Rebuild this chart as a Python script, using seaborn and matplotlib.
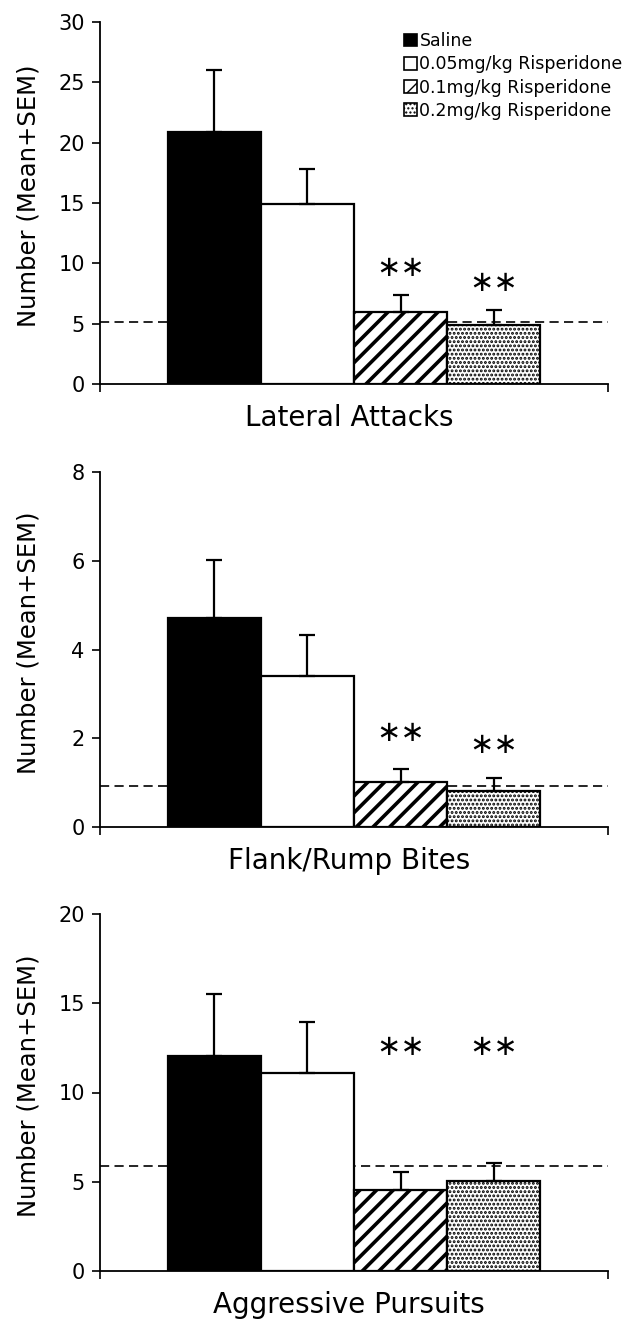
import numpy as np
import pandas as pd
import matplotlib
matplotlib.use("Agg")
import matplotlib.pyplot as plt
import seaborn as sns
from matplotlib.patches import Patch

# ---------------- data ----------------
groups = ["Saline", "0.05mg/kg Risperidone", "0.1mg/kg Risperidone", "0.2mg/kg Risperidone"]
measures = ["Lateral Attacks", "Flank/Rump Bites", "Aggressive Pursuits"]

lateral_mean = [20.9, 14.95, 6.0, 4.9]
lateral_sem = [5.1, 2.85, 1.37, 1.23]
flank_mean = [4.72, 3.41, 1.01, 0.82]
flank_sem = [1.29, 0.91, 0.29, 0.28]
pursuit_mean = [12.06, 11.08, 4.55, 5.05]
pursuit_sem = [3.44, 2.89, 0.97, 0.99]

baseline = [5.15, 0.93, 5.9]          # dashed reference line per panel
star_level = [[9.6, 8.4], [2.12, 1.85], [12.55, 12.55]]  # "**" heights (data units)
y_max = [30, 8, 20]
y_step = [5, 2, 5]

face_colors = ["black", "white", "white", "white"]
hatches = ["", "", "//", "...."]
hatch_lw = [1.0, 1.0, 2.6, 1.4]

# ---------------- style ----------------
sns.set_style("ticks")
plt.rcParams["font.family"] = ["DejaVu Sans"]
plt.rcParams["hatch.color"] = "black"
plt.rcParams["text.color"] = "black"
plt.rcParams["axes.labelcolor"] = "black"

fig = plt.figure(figsize=(6.24, 13.21), dpi=100)
W, H = 624.0, 1321.0
ax_px = [(22, 384), (472, 827), (914, 1271)]  # (top, bottom) in pixels
left_px, right_px = 100, 608

means_all = [lateral_mean, flank_mean, pursuit_mean]
sems_all = [lateral_sem, flank_sem, pursuit_sem]
XL = 0.545

for i, measure in enumerate(measures):
    top, bot = ax_px[i]
    ax = fig.add_axes([left_px / W, 1 - bot / H, (right_px - left_px) / W, (bot - top) / H])
    df = pd.DataFrame({"measure": measure, "group": groups, "mean": means_all[i]})
    sns.barplot(data=df, x="measure", y="mean", hue="group", hue_order=groups,
                palette=face_colors, saturation=1, edgecolor="black", linewidth=1.6,
                errorbar=None, width=0.8, legend=False, ax=ax, zorder=2)

    xs, tops = [], []
    for k, cont in enumerate(ax.containers):
        for p in cont.patches:
            p.set_hatch(hatches[k])
            if hasattr(p, "set_hatch_linewidth"):
                p.set_hatch_linewidth(hatch_lw[k])
            xs.append(p.get_x() + p.get_width() / 2)
            tops.append(p.get_height())
    xs = np.array(xs)
    sem = np.array(sems_all[i])
    ax.errorbar(xs, tops, yerr=[np.zeros_like(sem), sem], fmt="none", ecolor="black",
                elinewidth=1.6, capsize=6, capthick=1.6, zorder=3)

    ax.axhline(baseline[i], color="black", lw=1.2, ls=(0, (5.5, 3.2)), zorder=1)

    for j, k in enumerate([2, 3]):
        ax.text(xs[k], star_level[i][j], "∗∗", ha="center", va="center",
                fontsize=21, color="black")

    ax.set_xlim(-XL, XL)
    ax.set_ylim(0, y_max[i])
    ax.set_yticks(np.arange(0, y_max[i] + 0.01, y_step[i]))
    ax.set_xticks([-XL, XL])
    ax.set_xticklabels(["", ""])
    ax.tick_params(axis="both", direction="out", length=6, width=1.2, labelsize=15,
                   color="black", labelcolor="black", pad=5)
    for s in ["left", "bottom"]:
        ax.spines[s].set_linewidth(1.3)
        ax.spines[s].set_color("black")
    sns.despine(ax=ax)
    ax.set_ylabel("Number (Mean+SEM)", fontsize=17.5, color="black")
    ax.yaxis.set_label_coords(-0.118, 0.52)
    ax.set_xlabel(measure, fontsize=20, color="black")
    ax.xaxis.set_label_coords(0.49, -0.056)

    if i == 0:
        handles = [Patch(facecolor=face_colors[k], edgecolor="black", hatch=hatches[k],
                         linewidth=1.2, label=groups[k]) for k in range(4)]
        for k, h in enumerate(handles):
            if hasattr(h, "set_hatch_linewidth"):
                h.set_hatch_linewidth(hatch_lw[k])
        leg = ax.legend(handles=handles, loc="upper left", bbox_to_anchor=(0.598, 0.972),
                        frameon=False, fontsize=12.5, handlelength=0.75, handleheight=0.75,
                        handletextpad=0.15, labelspacing=0.3, borderpad=0, borderaxespad=0,
                        labelcolor="black")

fig.savefig("out.png", dpi=100)
